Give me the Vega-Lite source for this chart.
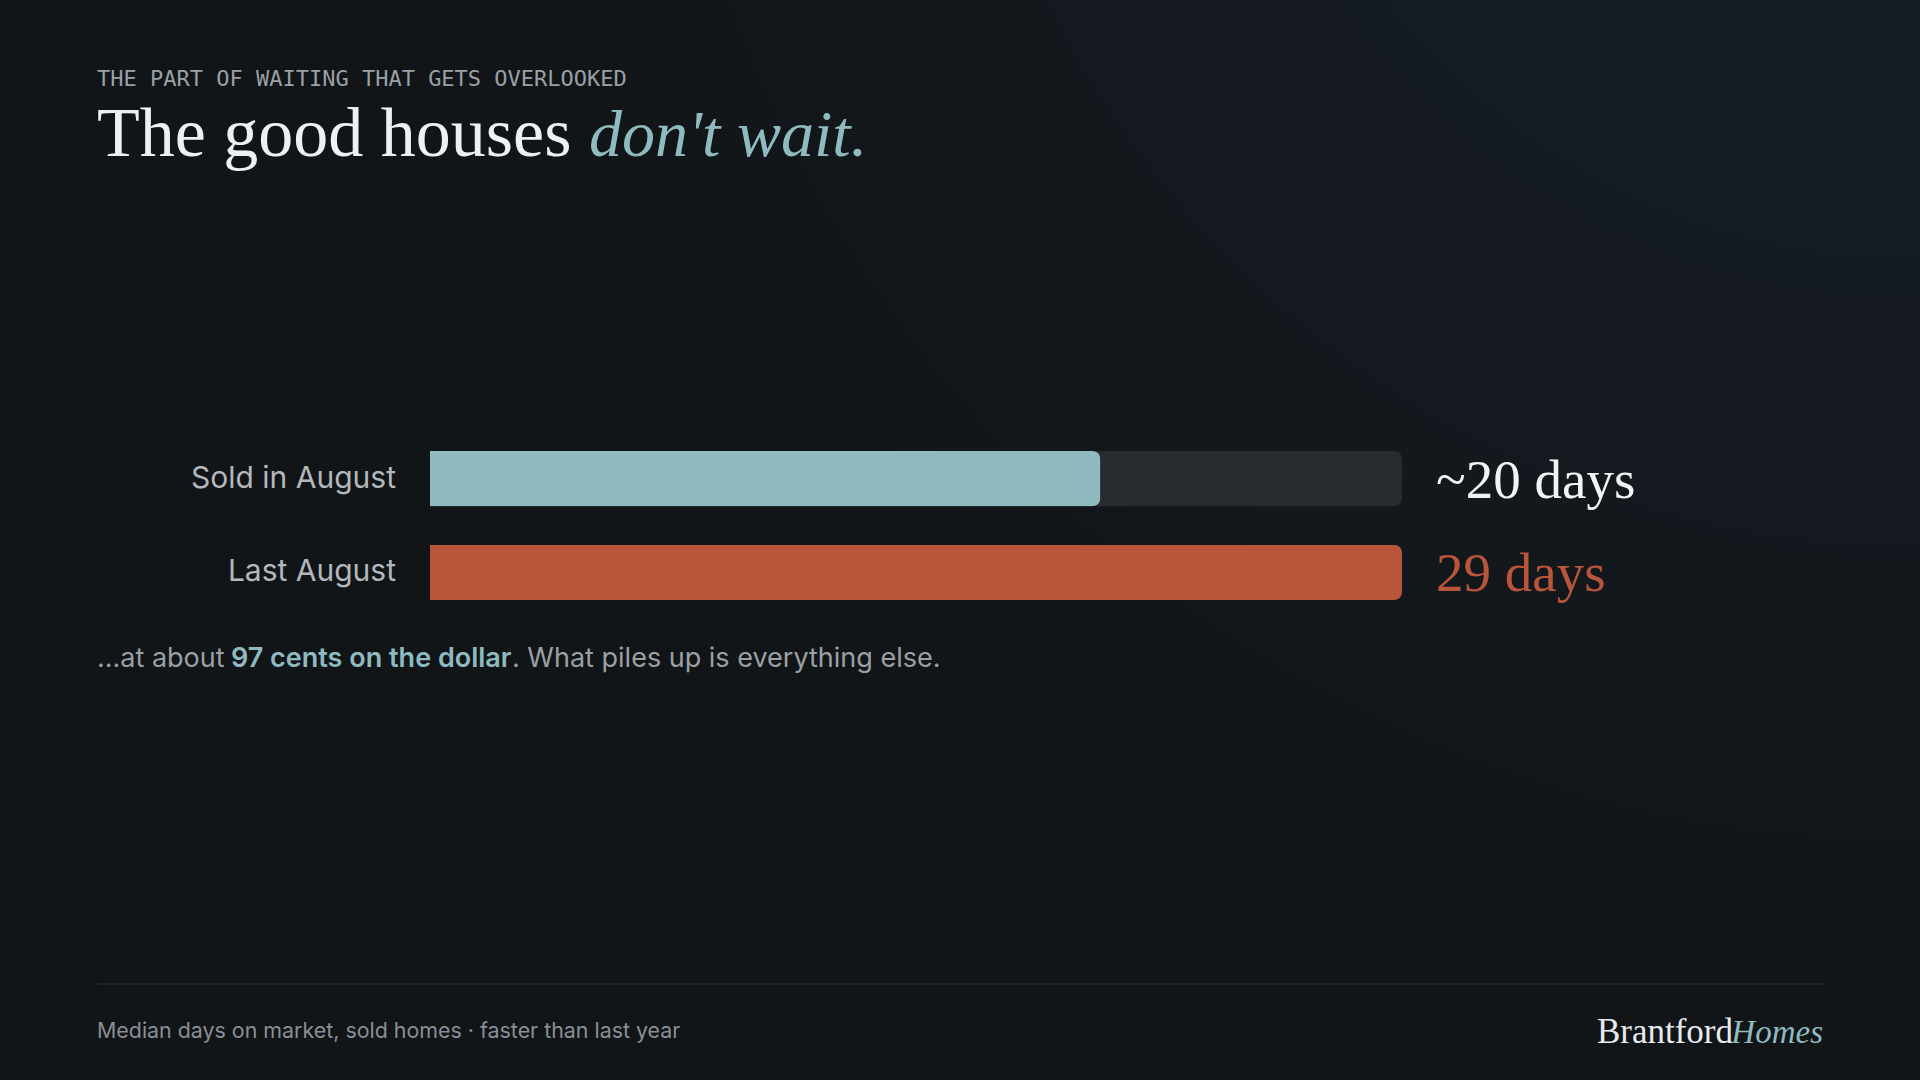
{
  "$schema": "https://vega.github.io/schema/vega-lite/v6.json",
  "width": 1920,
  "height": 1080,
  "autosize": {"type": "fit", "contains": "padding"},
  "padding": 0,
  "background": "#111518",
  "config": {"view": {"stroke": null}},
  "datasets": {
    "bars": [
      {"row": "Sold in August", "days": 20, "label": "~20 days"},
      {"row": "Last August", "days": 29, "label": "29 days"}
    ]
  },
  "data": {"name": "bars"},
  "layer": [
    {
      "data": {"values": [{}]},
      "mark": {"type": "rect", "color": {"gradient": "radial", "x1": 1, "y1": 0, "r1": 0, "x2": 1, "y2": 0, "r2": 0.75, "stops": [{"offset": 0, "color": "#18202a"}, {"offset": 1, "color": "#111518"}]}},
      "encoding": {"x": {"value": 0}, "x2": {"value": 1920}, "y": {"value": 0}, "y2": {"value": 1080}}
    },
    {
      "transform": [{"filter": "datum.row === 'Sold in August'"}],
      "mark": {"type": "bar", "color": "#272c31", "cornerRadiusEnd": 8},
      "encoding": {
        "x": {"datum": 29, "type": "quantitative", "scale": {"domain": [0, 29], "range": [430, 1402], "nice": false, "zero": true}, "axis": null},
        "y": {"field": "row", "type": "nominal", "scale": {"domain": ["Sold in August", "Last August"], "range": [451, 600], "paddingInner": 0.41, "paddingOuter": 0}, "axis": null}
      }
    },
    {
      "mark": {"type": "bar", "cornerRadiusEnd": 8},
      "encoding": {
        "x": {"field": "days", "type": "quantitative", "axis": null},
        "y": {"field": "row", "type": "nominal", "axis": null},
        "color": {"field": "row", "type": "nominal", "scale": {"domain": ["Sold in August", "Last August"], "range": ["#8fbac0", "#b9553b"]}, "legend": null}
      }
    },
    {
      "mark": {"type": "text", "align": "right", "baseline": "middle", "font": "Inter", "fontSize": 30, "color": "#b4b8bc"},
      "encoding": {
        "x": {"value": 396},
        "y": {"field": "row", "type": "nominal", "axis": null},
        "text": {"field": "row"}
      }
    },
    {
      "mark": {"type": "text", "align": "left", "baseline": "middle", "font": "Liberation Serif", "fontSize": 55, "dy": 2},
      "encoding": {
        "x": {"value": 1436},
        "y": {"field": "row", "type": "nominal", "axis": null},
        "text": {"field": "label"},
        "color": {"condition": {"test": "datum.row === 'Last August'", "value": "#b9553b"}, "value": "#f2f3f5"}
      }
    },
    {
      "data": {"values": [{"t": "THE PART OF WAITING THAT GETS OVERLOOKED"}]},
      "mark": {"type": "text", "align": "left", "baseline": "alphabetic", "font": "DejaVu Sans Mono", "fontSize": 22, "color": "#9aa0a5"},
      "encoding": {"x": {"value": 97}, "y": {"value": 86}, "text": {"field": "t"}}
    },
    {
      "data": {"values": [{"t": "The good houses"}]},
      "mark": {"type": "text", "align": "left", "baseline": "alphabetic", "font": "Liberation Serif", "fontSize": 70, "color": "#eef0f3"},
      "encoding": {"x": {"value": 97}, "y": {"value": 156}, "text": {"field": "t"}}
    },
    {
      "data": {"values": [{"t": "don't wait."}]},
      "mark": {"type": "text", "align": "left", "baseline": "alphabetic", "font": "Liberation Serif", "fontStyle": "italic", "fontSize": 66, "color": "#8fbac0"},
      "encoding": {"x": {"value": 589}, "y": {"value": 156}, "text": {"field": "t"}}
    },
    {
      "data": {"values": [{"t": "...at about "}]},
      "mark": {"type": "text", "align": "left", "baseline": "middle", "font": "Inter", "fontSize": 27, "color": "#9aa0a5"},
      "encoding": {"x": {"value": 97}, "y": {"value": 659}, "text": {"field": "t"}}
    },
    {
      "data": {"values": [{"t": "97 cents on the dollar"}]},
      "mark": {"type": "text", "align": "left", "baseline": "middle", "font": "Inter", "fontSize": 27, "fontWeight": 600, "color": "#8fbac0"},
      "encoding": {"x": {"value": 231}, "y": {"value": 659}, "text": {"field": "t"}}
    },
    {
      "data": {"values": [{"t": ". What piles up is everything else."}]},
      "mark": {"type": "text", "align": "left", "baseline": "middle", "font": "Inter", "fontSize": 27, "color": "#9aa0a5"},
      "encoding": {"x": {"value": 512}, "y": {"value": 659}, "text": {"field": "t"}}
    },
    {
      "data": {"values": [{}]},
      "mark": {"type": "rule", "color": "#2a2f34", "strokeWidth": 1},
      "encoding": {"x": {"value": 97}, "x2": {"value": 1823}, "y": {"value": 984}}
    },
    {
      "data": {"values": [{"t": "Median days on market, sold homes · faster than last year"}]},
      "mark": {"type": "text", "align": "left", "baseline": "middle", "font": "Inter", "fontSize": 21.4, "color": "#8a8f95"},
      "encoding": {"x": {"value": 97}, "y": {"value": 1032}, "text": {"field": "t"}}
    },
    {
      "data": {"values": [{"t": "Brantford"}]},
      "mark": {"type": "text", "align": "right", "baseline": "alphabetic", "font": "Liberation Serif", "fontSize": 35, "color": "#e8eaee"},
      "encoding": {"x": {"value": 1733}, "y": {"value": 1043}, "text": {"field": "t"}}
    },
    {
      "data": {"values": [{"t": "Homes"}]},
      "mark": {"type": "text", "align": "right", "baseline": "alphabetic", "font": "Liberation Serif", "fontStyle": "italic", "fontSize": 33, "color": "#8fbac0"},
      "encoding": {"x": {"value": 1823}, "y": {"value": 1043}, "text": {"field": "t"}}
    }
  ]
}
